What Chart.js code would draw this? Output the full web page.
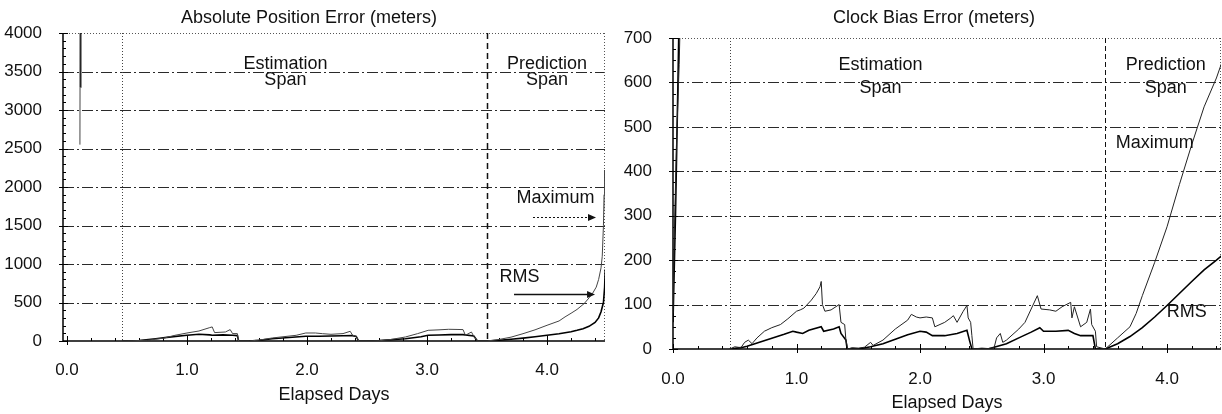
<!DOCTYPE html>
<html><head><meta charset="utf-8">
<script src="https://cdn.jsdelivr.net/npm/chart.js@4.4.1/dist/chart.umd.min.js"></script>
<style>
html,body{margin:0;padding:0;background:#fff;}
#wrap{position:relative;width:1222px;height:414px;overflow:hidden;}
canvas{position:absolute;top:0;}
#c1{left:0;} #c2{left:610px;}
</style></head><body>
<div id="wrap"><canvas id="c1" width="610" height="414"></canvas><canvas id="c2" width="612" height="414"></canvas></div>
<script>
// ---------- data ----------
const xTickLabels = ['0.0', '1.0', '2.0', '3.0', '4.0'];
const spanBounds = [0.46, 3.5];

// Absolute Position Error (meters)
const posMaxDays = [0.108,0.110,0.112, 0.46,0.55,0.67,0.74,0.80,0.90,1.00,1.10,1.19,1.21, 1.23,1.32,1.36,1.38,1.42,1.43,1.52,1.60,1.71,1.80, 1.91,1.99,2.07,2.13,2.20,2.30,2.36,2.38,2.41,2.43, 2.50,2.60,2.70,2.82,2.92,3.01,3.10,3.18,3.25,3.30, 3.32,3.37,3.39,3.42,3.50,3.60,3.70,3.80,3.90,4.00, 4.10,4.15,4.20,4.25,4.31,4.35,4.38,4.41,4.43,4.45, 4.46,4.47,4.475,4.48,4.485,4.50];
const posMaxVals = [2550,4200,null, 0,3,10,25,35,74,104,130,174,183, 109,117,148,96,96,0,0,12,39,55, 74,104,104,95,87,96,126,74,61,0, 0,3,20,52,95,139,145,152,150,148, 74,117,61,0,0,20,50,95,145,204, 260,313,360,410,487,560,620,700,800,950, 1100,1500,1900,2220,1700,1500];
const posRmsDays = [0.112,0.114,0.116, 0.46,0.60,0.74,0.85,1.00,1.10,1.19,1.21,1.30,1.38, 1.42,1.43,1.52,1.60,1.71,1.85,1.99,2.10,2.20,2.30, 2.38,2.41,2.43,2.50,2.60,2.82,2.95,3.01,3.10,3.20, 3.30,3.39,3.42,3.50,3.60,3.70,3.80,3.90,4.00,4.10, 4.20,4.25,4.30,4.35,4.40,4.43,4.45,4.47,4.48,4.485, 4.49,4.50];
const posRmsVals = [3300,4300,null, 0,5,30,50,74,87,80,74,80,74, 70,0,0,8,30,45,61,62,65,68, 70,60,0,0,5,30,55,74,78,83, 83,65,0,0,10,22,37,55,74,95, 120,139,160,190,240,300,380,500,700,930, 720,680];
const posYTicks = [0, 500, 1000, 1500, 2000, 2500, 3000, 3500, 4000];

// Clock Bias Error (meters)
const clkMaxDays = [0.00,0.01,0.03,0.05,0.06,0.07, 0.46,0.50,0.55,0.58,0.61,0.64,0.68,0.74,0.80,0.87, 0.93,1.00,1.03,1.06,1.12,1.16,1.19,1.20,1.21,1.23, 1.28,1.345,1.36,1.39,1.40,1.415,1.45,1.50,1.55,1.60, 1.62,1.70,1.80,1.90,1.93,1.97,2.00,2.05,2.10,2.12, 2.20,2.25,2.27,2.30,2.35,2.38,2.39,2.41,2.42,2.43, 2.50,2.55,2.60,2.62,2.65,2.67,2.70,2.80,2.85,2.90, 2.95,2.98,3.05,3.10,3.15,3.22,3.23,3.25,3.30,3.35, 3.38,3.39,3.42,3.43,3.50,3.60,3.70,3.75,3.80,3.90, 4.00,4.10,4.20,4.30,4.40,4.45];
const clkMaxVals = [80,250,480,640,760,null, 0,5,3,15,20,12,25,40,48,55, 68,85,88,92,110,125,140,152,100,85, 88,100,60,55,20,0,3,2,4,15, 8,20,45,65,78,72,70,72,70,50, 60,70,75,60,85,98,70,60,30,0, 2,1,3,25,35,15,20,45,60,90, 120,90,88,85,95,105,70,95,50,60, 90,55,40,5,0,25,50,80,120,195, 275,370,460,545,610,650];
const clkRmsDays = [0.00,0.02,0.04,0.05,0.06, 0.46,0.55,0.60,0.70,0.80,0.90,0.97,1.00,1.05,1.10, 1.20,1.22,1.30,1.345,1.36,1.40,1.41,1.50,1.60,1.70, 1.80,1.90,2.00,2.05,2.10,2.20,2.30,2.38,2.40,2.42, 2.55,2.60,2.70,2.80,2.90,2.97,3.00,3.10,3.20,3.25, 3.30,3.40,3.42,3.50,3.60,3.70,3.80,3.90,4.00,4.10, 4.20,4.30,4.40,4.45];
const clkRmsVals = [60,300,600,760,null, 0,3,6,15,24,33,40,38,35,42, 50,40,45,50,35,20,0,0,5,12, 22,32,40,38,30,30,35,42,20,0, 0,4,12,25,38,48,40,40,42,35, 30,30,0,0,12,28,48,72,98,125, 152,178,200,212];
const clkYTicks = [0, 100, 200, 300, 400, 500, 600, 700];

// ---------- helpers ----------
const FONT = '"Liberation Sans", Arial, Helvetica, sans-serif';
const FS = 18, TS = 17;
function pts(days, vals) { return days.map((d, i) => ({ x: d, y: vals[i] })); }
function seg(ctx, x1, y1, x2, y2) { ctx.beginPath(); ctx.moveTo(x1, y1); ctx.lineTo(x2, y2); ctx.stroke(); }

const framePlugin = {
  id: 'frame',
  beforeDatasetsDraw(chart, args, o) {
    const { ctx, chartArea: a, scales: { x, y } } = chart;
    ctx.save();
    ctx.strokeStyle = '#2a2a2a'; ctx.lineWidth = 1; ctx.setLineDash([11, 3, 2, 3]);
    y.ticks.forEach(t => {
      if (t.value <= y.min || t.value >= y.max) return;
      const py = Math.round(y.getPixelForValue(t.value)) + 0.5;
      seg(ctx, a.left, py, a.right, py);
    });
    ctx.strokeStyle = '#555'; ctx.setLineDash([1, 2]);
    seg(ctx, a.left - 3, a.top + 0.5, a.right, a.top + 0.5);
    seg(ctx, a.right - 0.5, a.top, a.right - 0.5, a.bottom);
    let px = Math.round(x.getPixelForValue(spanBounds[0])) + 0.5;
    ctx.strokeStyle = o.estColor; ctx.setLineDash(o.estDash); ctx.lineWidth = 1;
    seg(ctx, px, a.top, px, a.bottom);
    px = Math.round(x.getPixelForValue(spanBounds[1])) + 0.5;
    ctx.strokeStyle = '#111'; ctx.setLineDash(o.predDash); ctx.lineWidth = o.predWidth;
    seg(ctx, px, a.top, px, a.bottom);
    ctx.setLineDash([]); ctx.strokeStyle = '#000'; ctx.lineWidth = 1.5;
    seg(ctx, a.left, a.top, a.left, a.bottom);
    seg(ctx, a.left, a.bottom, a.right, a.bottom);
    ctx.lineWidth = 1;
    for (let v = y.min; v <= y.max + 1e-9; v += o.yMinor) {
      const py = Math.round(y.getPixelForValue(v)) + 0.5;
      const major = Math.abs(v / o.yMajor - Math.round(v / o.yMajor)) < 1e-6;
      seg(ctx, a.left - (major ? 4 : 0), py, a.left + (major ? 5 : 3), py);
    }
    for (let v = 0; v <= x.max + 1e-9; v += o.xMinor) {
      const pxx = Math.round(x.getPixelForValue(v)) + 0.5;
      const major = Math.abs(v - Math.round(v)) < 1e-6;
      seg(ctx, pxx, a.bottom + (major ? 4 : 0), pxx, a.bottom - (major ? 5 : 3));
    }
    ctx.restore();
  },
  afterDatasetsDraw(chart, args, o) {
    const { ctx, scales: { x, y } } = chart;
    ctx.save();
    ctx.fillStyle = '#111'; ctx.font = FS + 'px ' + FONT;
    ctx.textAlign = 'center'; ctx.textBaseline = 'middle';
    ctx.fillText(o.title, o.titleX, o.titleY);
    o.labels.forEach(l => ctx.fillText(l.t, x.getPixelForValue(l.x), y.getPixelForValue(l.y)));
    o.arrows.forEach(r => {
      const x1 = x.getPixelForValue(r.x1), x2 = x.getPixelForValue(r.x2), py = Math.round(y.getPixelForValue(r.y)) + 0.5;
      ctx.strokeStyle = '#111'; ctx.lineWidth = r.w; ctx.setLineDash(r.dash);
      seg(ctx, x1, py, x2 - 6, py);
      ctx.setLineDash([]);
      ctx.beginPath(); ctx.moveTo(x2, py); ctx.lineTo(x2 - 8, py - 3.5); ctx.lineTo(x2 - 8, py + 3.5); ctx.closePath(); ctx.fill();
    });
    ctx.restore();
  }
};

function makeChart(id, c) {
  return new Chart(document.getElementById(id), {
    type: 'line',
    data: {
      datasets: [
        { label: 'Maximum', data: pts(c.maxDays, c.maxVals), borderColor: c.maxColor, borderWidth: 1, pointRadius: 0, tension: 0, spanGaps: false },
        { label: 'RMS', data: pts(c.rmsDays, c.rmsVals), borderColor: '#000', borderWidth: 1.6, pointRadius: 0, tension: 0, spanGaps: false }
      ]
    },
    options: {
      responsive: false, animation: false, devicePixelRatio: 1,
      layout: { padding: { left: 0, right: c.padRight, top: c.padTop, bottom: 0 } },
      plugins: {
        legend: { display: false }, tooltip: { enabled: false }, title: { display: false },
        frame: c.frame
      },
      scales: {
        x: {
          type: 'linear', min: c.xMin, max: c.xMax,
          grid: { display: false }, border: { display: false },
          afterBuildTicks: s => { s.ticks = xTickLabels.map((t, i) => ({ value: i })); },
          ticks: { autoSkip: false, maxRotation: 0, color: '#111', padding: c.xTickPad, font: { family: FONT, size: TS },
                   callback: v => xTickLabels[Math.round(v)] },
          title: { display: true, text: 'Elapsed Days', color: '#111', font: { family: FONT, size: FS }, padding: { top: 0, bottom: c.xTitlePad } },
          afterFit: s => { s.height = c.xHeight; }
        },
        y: {
          type: 'linear', min: 0, max: c.yMax,
          grid: { display: false }, border: { display: false },
          afterBuildTicks: s => { s.ticks = c.yTicks.map(v => ({ value: v })); },
          ticks: { color: '#111', padding: c.yTickPad, font: { family: FONT, size: TS }, callback: v => String(v) },
          afterFit: s => { s.width = c.yWidth; }
        }
      }
    },
    plugins: [framePlugin]
  });
}

makeChart('c1', {
  maxColor: '#444',
  maxDays: posMaxDays, maxVals: posMaxVals, rmsDays: posRmsDays, rmsVals: posRmsVals,
  yMax: 4000, yTicks: posYTicks, xMin: -0.033, xMax: 4.483, padRight: 5, padTop: 33, yWidth: 63, xHeight: 73,
  xTickPad: 11, xTitlePad: 8, yTickPad: 13,
  frame: {
    title: 'Absolute Position Error (meters)', titleX: 309, titleY: 18,
    estColor: '#444', estDash: [1, 2], predDash: [6, 4], predWidth: 1.5,
    yMinor: 100, yMajor: 500, xMinor: 0.2,
    labels: [
      { t: 'Estimation', x: 1.82, y: 3600 }, { t: 'Span', x: 1.82, y: 3390 },
      { t: 'Prediction', x: 4.0, y: 3600 }, { t: 'Span', x: 4.0, y: 3390 },
      { t: 'Maximum', x: 4.07, y: 1857 }, { t: 'RMS', x: 3.77, y: 831 }
    ],
    arrows: [
      { x1: 3.883, x2: 4.408, y: 1610, dash: [2, 2], w: 1 },
      { x1: 3.725, x2: 4.40, y: 610, dash: [], w: 1.3 }
    ]
  }
});

makeChart('c2', {
  maxColor: '#222',
  maxDays: clkMaxDays, maxVals: clkMaxVals, rmsDays: clkRmsDays, rmsVals: clkRmsVals,
  yMax: 700, yTicks: clkYTicks, xMin: 0, xMax: 4.437, padRight: 1, padTop: 38, yWidth: 63, xHeight: 65,
  xTickPad: 12, xTitlePad: 0, yTickPad: 13,
  frame: {
    title: 'Clock Bias Error (meters)', titleX: 324, titleY: 18,
    estColor: '#444', estDash: [1, 2], predDash: [5, 3], predWidth: 1,
    yMinor: 25, yMajor: 100, xMinor: 0.2,
    labels: [
      { t: 'Estimation', x: 1.68, y: 639 }, { t: 'Span', x: 1.68, y: 587 },
      { t: 'Prediction', x: 3.99, y: 639 }, { t: 'Span', x: 3.99, y: 587 },
      { t: 'Maximum', x: 3.90, y: 464 }, { t: 'RMS', x: 4.16, y: 83 }
    ],
    arrows: []
  }
});
</script>
</body></html>
